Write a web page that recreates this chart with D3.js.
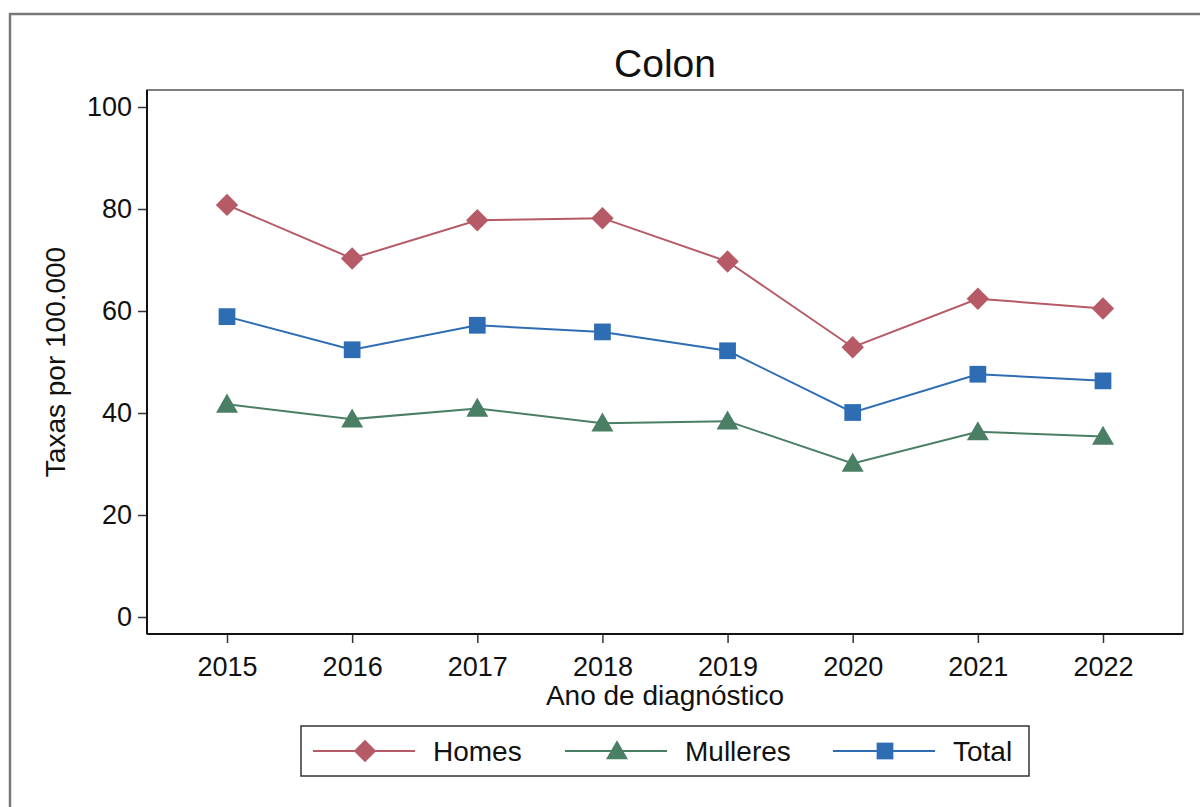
<!DOCTYPE html>
<html lang="en">
<head>
<meta charset="utf-8">
<title>Colon</title>
<script src="https://cdn.jsdelivr.net/npm/d3@7"></script>
<style>
  body { margin: 0; background: #fff; }
  text { font-family: Arial, "Liberation Sans", sans-serif; fill: #111; }
</style>
</head>
<body>
<div id="chart"></div>
<script>
// data
var years = [2015, 2016, 2017, 2018, 2019, 2020, 2021, 2022];
var homes = [80.8, 70.3, 77.8, 78.2, 69.7, 52.9, 62.4, 60.5];
var mulleres = [41.7, 38.8, 40.9, 38.0, 38.4, 30.1, 36.3, 35.4];
var total = [58.9, 52.4, 57.2, 55.9, 52.2, 40.1, 47.6, 46.3];
var yTicks = [0, 20, 40, 60, 80, 100];

var series = [
  {name: "Homes", values: homes, color: "#b55a66", symbol: "diamond"},
  {name: "Mulleres", values: mulleres, color: "#4a7f66", symbol: "triangle"},
  {name: "Total", values: total, color: "#2e6db4", symbol: "square"}
];

var width = 1200, height = 807;
var plot = {left: 147, top: 90, right: 1183, bottom: 634};
var fs = 27, fsTitle = 28;

var svg = d3.select("#chart").append("svg")
    .attr("width", width)
    .attr("height", height);

// outer frame
svg.append("rect")
    .attr("x", 10).attr("y", 14)
    .attr("width", 1200).attr("height", 820)
    .attr("fill", "none")
    .attr("stroke", "#777")
    .attr("stroke-width", 2.5);

var x = d3.scalePoint()
    .domain(years)
    .range([227, 1103]);

var y = d3.scaleLinear()
    .domain([0, 100])
    .range([617, 107]);

// plot region border
svg.append("rect")
    .attr("x", plot.left).attr("y", plot.top)
    .attr("width", plot.right - plot.left)
    .attr("height", plot.bottom - plot.top)
    .attr("fill", "none")
    .attr("stroke", "#555")
    .attr("stroke-width", 1.5);

var yAxis = svg.append("g")
    .attr("transform", "translate(" + plot.left + ",0)")
    .call(d3.axisLeft(y).tickValues(yTicks).tickSize(9).tickPadding(6));

var xAxis = svg.append("g")
    .attr("transform", "translate(0," + plot.bottom + ")")
    .call(d3.axisBottom(x).tickSize(9).tickPadding(14).tickFormat(d3.format("d")));

[yAxis, xAxis].forEach(function(a) {
  a.select(".domain").remove();
  a.selectAll(".tick line").attr("stroke", "#333").attr("stroke-width", 1.5);
  a.selectAll("text").attr("font-size", fs).attr("fill", "#111")
    .style("font-family", "Arial, 'Liberation Sans', sans-serif");
});

// black axis lines
svg.append("line")
    .attr("x1", plot.left).attr("x2", plot.left)
    .attr("y1", plot.top).attr("y2", plot.bottom)
    .attr("stroke", "#111").attr("stroke-width", 2);
svg.append("line")
    .attr("x1", plot.left).attr("x2", plot.right)
    .attr("y1", plot.bottom).attr("y2", plot.bottom)
    .attr("stroke", "#111").attr("stroke-width", 2);

// titles
svg.append("text")
    .attr("x", 665).attr("y", 77)
    .attr("text-anchor", "middle")
    .attr("font-size", 39)
    .text("Colon");

svg.append("text")
    .attr("x", 665).attr("y", 705)
    .attr("text-anchor", "middle")
    .attr("font-size", fsTitle)
    .text("Ano de diagnóstico");

svg.append("text")
    .attr("transform", "translate(65,362) rotate(-90)")
    .attr("text-anchor", "middle")
    .attr("font-size", fsTitle)
    .text("Taxas por 100.000");

var symbols = {
  diamond: d3.symbol().type(d3.symbolDiamond2).size(320),
  triangle: d3.symbol().type(d3.symbolTriangle).size(210),
  square: d3.symbol().type(d3.symbolSquare).size(280)
};

var line = d3.line()
    .x(function(d, i) { return x(years[i]); })
    .y(function(d) { return y(d); });

series.forEach(function(s) {
  svg.append("path")
      .attr("d", line(s.values))
      .attr("fill", "none")
      .attr("stroke", s.color)
      .attr("stroke-width", 2);

  svg.selectAll(null)
      .data(s.values)
      .enter()
      .append("path")
      .attr("d", symbols[s.symbol])
      .attr("transform", function(d, i) {
        var dy = s.symbol == "triangle" ? 2 : 0;
        return "translate(" + x(years[i]) + "," + (y(d) + dy) + ")";
      })
      .attr("fill", s.color);
});

// legend
var legend = svg.append("g");
legend.append("rect")
    .attr("x", 301).attr("y", 726)
    .attr("width", 728).attr("height", 50)
    .attr("fill", "#fff")
    .attr("stroke", "#333")
    .attr("stroke-width", 1.5);

var legendX = [313, 565, 833];
series.forEach(function(s, i) {
  var lx = legendX[i], ly = 751;
  legend.append("line")
      .attr("x1", lx).attr("x2", lx + 102)
      .attr("y1", ly).attr("y2", ly)
      .attr("stroke", s.color).attr("stroke-width", 2);
  legend.append("path")
      .attr("d", symbols[s.symbol])
      .attr("transform", "translate(" + (lx + 52) + "," + (ly + (s.symbol == "triangle" ? 2 : 0)) + ")")
      .attr("fill", s.color);
  legend.append("text")
      .attr("x", lx + 120).attr("y", ly + 10)
      .attr("font-size", fsTitle)
      .text(s.name);
});
</script>
</body>
</html>
